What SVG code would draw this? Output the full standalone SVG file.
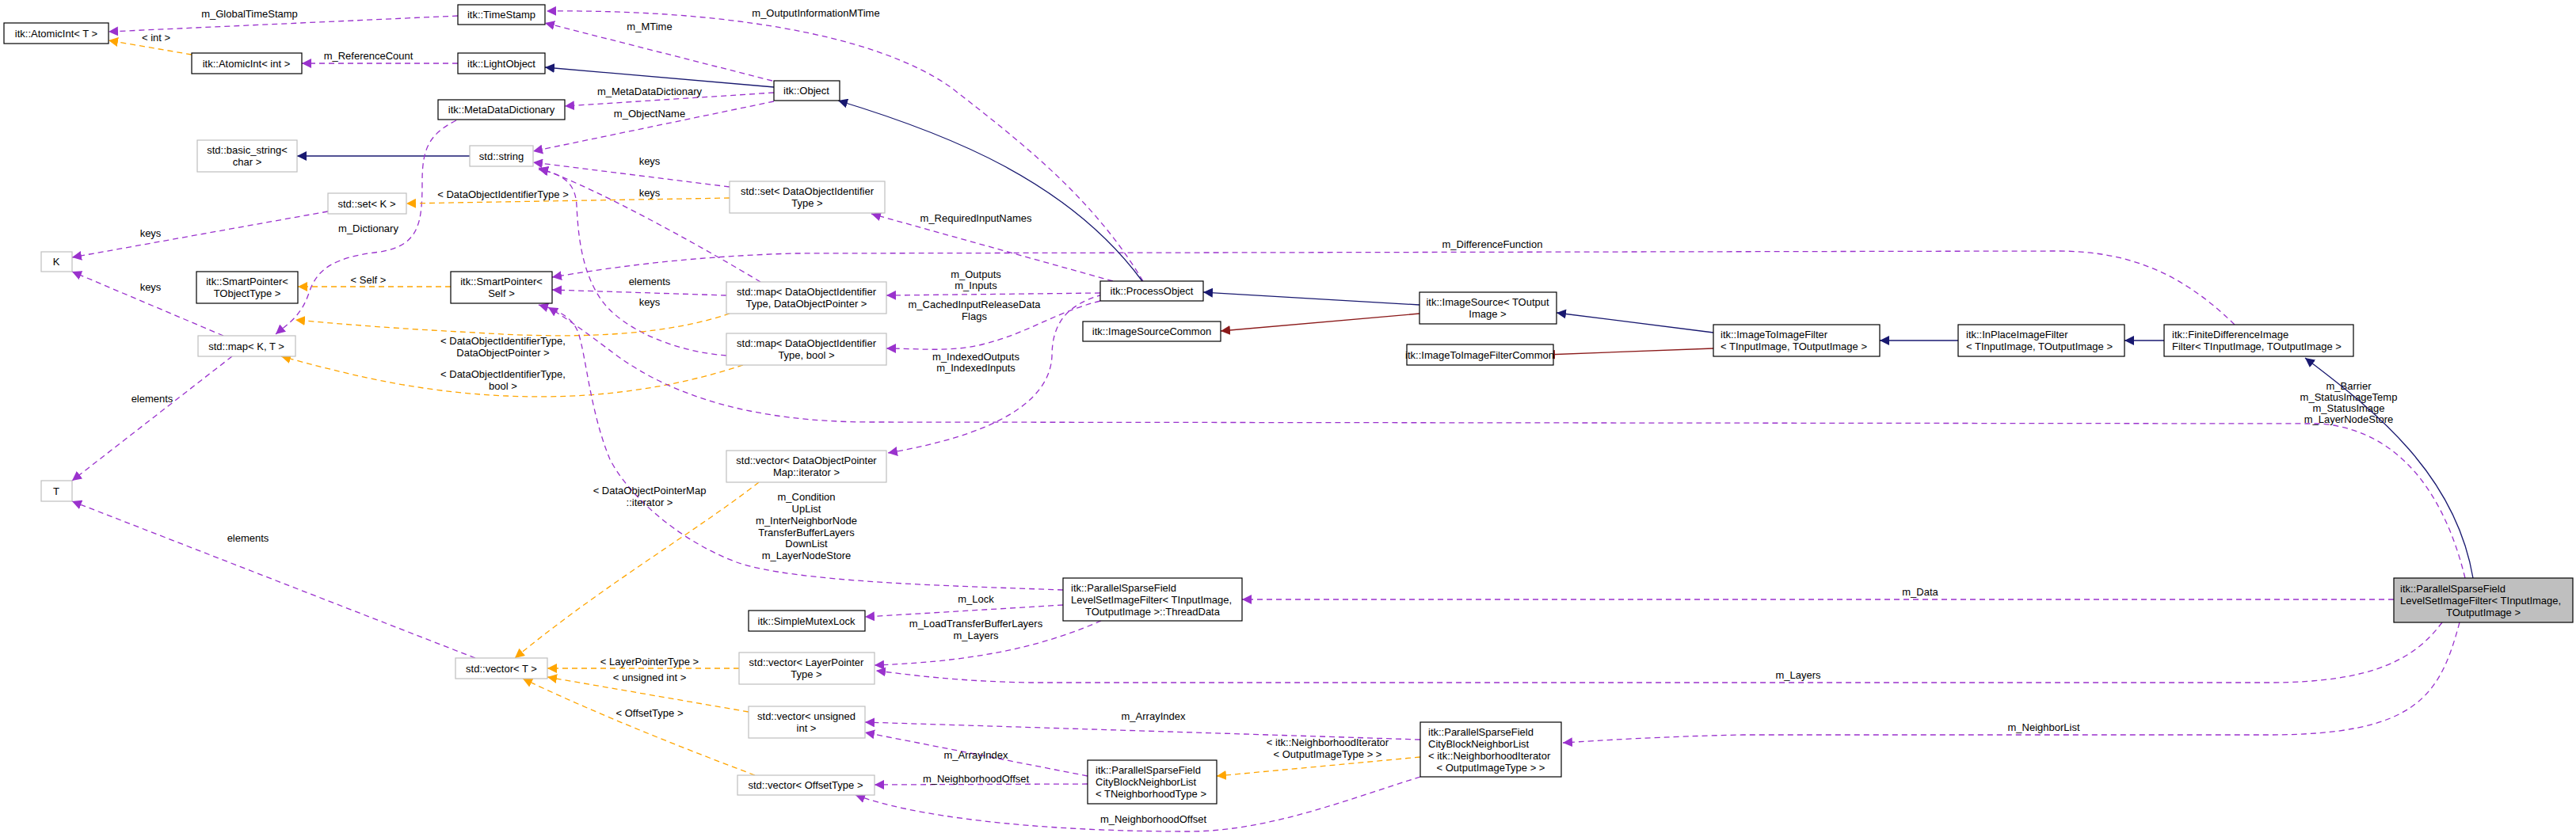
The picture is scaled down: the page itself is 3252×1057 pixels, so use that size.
<svg xmlns="http://www.w3.org/2000/svg" width="3252" height="1057" viewBox="0 0 3252 1057">
<style>
text{font-family:"Liberation Sans",Arial,sans-serif;font-size:13px;fill:#000}
.n rect{fill:#fff;stroke:#000;stroke-width:1.2}
.g rect{fill:#fff;stroke:#bfbfbf;stroke-width:1.2}
.m{text-anchor:middle}
.p{fill:none;stroke:#9a32cd;stroke-width:1.3;stroke-dasharray:7,5;marker-end:url(#ap)}
.o{fill:none;stroke:#ffa500;stroke-width:1.3;stroke-dasharray:7,5;marker-end:url(#ao)}
.b{fill:none;stroke:#191970;stroke-width:1.3;marker-end:url(#ab)}
.r{fill:none;stroke:#8b1a1a;stroke-width:1.3;marker-end:url(#ar)}
</style>
<defs>
<marker id="ap" viewBox="0 0 10 10" refX="10" refY="5" markerWidth="12" markerHeight="12" markerUnits="userSpaceOnUse" orient="auto"><path d="M0,0L10,5L0,10z" fill="#9a32cd"/></marker>
<marker id="ao" viewBox="0 0 10 10" refX="10" refY="5" markerWidth="12" markerHeight="12" markerUnits="userSpaceOnUse" orient="auto"><path d="M0,0L10,5L0,10z" fill="#ffa500"/></marker>
<marker id="ab" viewBox="0 0 10 10" refX="10" refY="5" markerWidth="12" markerHeight="12" markerUnits="userSpaceOnUse" orient="auto"><path d="M0,0L10,5L0,10z" fill="#191970"/></marker>
<marker id="ar" viewBox="0 0 10 10" refX="10" refY="5" markerWidth="12" markerHeight="12" markerUnits="userSpaceOnUse" orient="auto"><path d="M0,0L10,5L0,10z" fill="#8b1a1a"/></marker>
</defs>
<rect width="3252" height="1057" fill="#fff"/>
<g id="edges">
<path class="p" d="M578,20 L137,40"/><text class="m" x="315" y="22">m_GlobalTimeStamp</text>
<path class="o" d="M242,69 L137,51"/><text class="m" x="197" y="52">&lt; int &gt;</text>
<path class="p" d="M578,80 L381,80"/><text class="m" x="465" y="75">m_ReferenceCount</text>
<path class="b" d="M977,110 L688,85"/>
<path class="p" d="M975,102 L688,29"/><text class="m" x="820" y="38">m_MTime</text>
<path class="p" d="M1443,355 C1380,250 1290,180 1200,110 C1100,40 900,12 690,14"/><text class="m" x="1030" y="21">m_OutputInformationMTime</text>
<path class="p" d="M977,117 L713,134"/><text class="m" x="820" y="120">m_MetaDataDictionary</text>
<path class="p" d="M977,128 L673,191"/><text class="m" x="820" y="148">m_ObjectName</text>
<path class="b" d="M593,197 L375,197"/>
<path class="p" d="M576,152 C540,170 533,190 533,230 C533,280 530,310 480,318 C420,325 400,340 390,370 C380,400 362,410 348,422"/><text class="m" x="465" y="293">m_Dictionary</text>
<path class="p" d="M414,267 L91,325"/><text class="m" x="190" y="299">keys</text>
<path class="p" d="M282,424 L91,343"/><text class="m" x="190" y="367">keys</text>
<path class="p" d="M293,450 L91,607"/><text class="m" x="192" y="508">elements</text>
<path class="p" d="M600,831 L91,633"/><text class="m" x="313" y="684">elements</text>
<path class="o" d="M569,362 L376,362"/><text class="m" x="465" y="358">&lt; Self &gt;</text>
<path class="o" d="M921,250 L513,257"/><text class="m" x="635" y="250">&lt; DataObjectIdentifierType &gt;</text>
<path class="p" d="M921,236 L673,205"/><text class="m" x="820" y="208">keys</text>
<path class="p" d="M960,356 C900,320 760,240 680,212"/><text class="m" x="820" y="248">keys</text>
<path class="p" d="M917,449 C860,445 790,420 760,380 C735,345 730,300 728,260 C727,235 715,220 680,214"/><text class="m" x="820" y="386">keys</text>
<path class="p" d="M917,373 L697,366"/><text class="m" x="820" y="360">elements</text>
<path class="o" d="M921,396 C850,420 750,430 600,420 C500,415 440,410 373,404"/><text class="m" x="635" y="435">&lt; DataObjectIdentifierType,</text><text class="m" x="635" y="450">DataObjectPointer &gt;</text>
<path class="o" d="M938,461 C850,490 750,505 640,500 C520,495 430,470 355,450"/><text class="m" x="635" y="477">&lt; DataObjectIdentifierType,</text><text class="m" x="635" y="492">bool &gt;</text>
<path class="p" d="M1389,370 L1119,373"/><text class="m" x="1232" y="351">m_Outputs</text><text class="m" x="1232" y="365">m_Inputs</text>
<path class="p" d="M1389,380 C1330,395 1300,420 1240,435 C1200,445 1160,440 1119,440"/><text class="m" x="1230" y="389">m_CachedInputReleaseData</text><text class="m" x="1230" y="404">Flags</text>
<path class="p" d="M1392,372 C1345,385 1328,410 1328,450 C1325,510 1250,550 1121,572"/><text class="m" x="1232" y="455">m_IndexedOutputs</text><text class="m" x="1232" y="469">m_IndexedInputs</text>
<path class="p" d="M1405,355 L1100,270"/><text class="m" x="1232" y="280">m_RequiredInputNames</text>
<path class="p" d="M2821,410 C2750,340 2680,317 2597,317 L1000,320 C850,325 760,340 697,350"/><text class="m" x="1884" y="313">m_DifferenceFunction</text>
<path class="p" d="M3112,730 C3090,640 3040,545 2930,535 L1100,533 C950,533 850,500 780,450 C740,420 720,405 692,388"/><text class="m" x="2965" y="492">m_Barrier</text><text class="m" x="2965" y="506">m_StatusImageTemp</text><text class="m" x="2965" y="520">m_StatusImage</text><text class="m" x="2965" y="534">m_LayerNodeStore</text>
<path class="p" d="M3022,757 L1568,757"/><text class="m" x="2424" y="752">m_Data</text>
<path class="p" d="M3083,786 C3050,830 3000,862 2864,862 L1300,862 C1200,860 1150,852 1106,847"/><text class="m" x="2270" y="857">m_Layers</text>
<path class="p" d="M3105,786 C3080,880 3050,928 2864,928 L2200,928 C2100,930 2020,935 1973,938"/><text class="m" x="2580" y="923">m_NeighborList</text>
<path class="p" d="M1342,745 C1200,740 1000,735 930,710 C850,680 790,620 770,580 C745,520 740,450 730,420 C722,400 705,392 680,385"/><text class="m" x="1018" y="632">m_Condition</text><text class="m" x="1018" y="647">UpList</text><text class="m" x="1018" y="662">m_InterNeighborNode</text><text class="m" x="1018" y="677">TransferBufferLayers</text><text class="m" x="1018" y="691">DownList</text><text class="m" x="1018" y="706">m_LayerNodeStore</text>
<path class="p" d="M1342,764 L1092,779"/><text class="m" x="1232" y="761">m_Lock</text>
<path class="p" d="M1390,784 C1330,810 1250,835 1104,840"/><text class="m" x="1232" y="792">m_LoadTransferBufferLayers</text><text class="m" x="1232" y="807">m_Layers</text>
<path class="o" d="M958,609 C880,670 760,740 650,831"/><text class="m" x="820" y="624">&lt; DataObjectPointerMap</text><text class="m" x="820" y="639">::iterator &gt;</text>
<path class="o" d="M933,844 L691,844"/><text class="m" x="820" y="840">&lt; LayerPointerType &gt;</text>
<path class="o" d="M945,899 L691,855"/><text class="m" x="820" y="860">&lt; unsigned int &gt;</text>
<path class="o" d="M953,979 C850,940 750,900 660,857"/><text class="m" x="820" y="905">&lt; OffsetType &gt;</text>
<path class="p" d="M1793,934 L1092,912"/><text class="m" x="1456" y="909">m_ArrayIndex</text>
<path class="p" d="M1373,980 L1092,925"/><text class="m" x="1232" y="958">m_ArrayIndex</text>
<path class="p" d="M1373,990 L1104,991"/><text class="m" x="1232" y="988">m_NeighborhoodOffset</text>
<path class="o" d="M1793,956 L1536,980"/><text class="m" x="1676" y="942">&lt; itk::NeighborhoodIterator</text><text class="m" x="1676" y="957">&lt; OutputImageType &gt; &gt;</text>
<path class="p" d="M1793,981 C1700,1010 1600,1050 1500,1050 C1300,1050 1150,1030 1080,1004"/><text class="m" x="1456" y="1039">m_NeighborhoodOffset</text>
<path class="b" d="M1442,355 C1350,230 1200,170 1058,127"/>
<path class="b" d="M1792,385 L1519,369"/>
<path class="r" d="M1792,396 L1541,418"/>
<path class="b" d="M2163,420 L1965,395"/>
<path class="r" d="M2163,440 L1951,448"/>
<path class="b" d="M2472,430 L2373,430"/>
<path class="b" d="M2732,430 L2682,430"/>
<path class="b" d="M3122,730 C3100,600 3000,520 2910,452"/>
</g>
<g id="AtomicIntT" class="n"><rect x="5" y="29" width="132" height="26"/><text class="m" x="71" y="47">itk::AtomicInt&lt; T &gt;</text></g>
<g id="AtomicIntInt" class="n"><rect x="242" y="67" width="139" height="26"/><text class="m" x="311" y="85">itk::AtomicInt&lt; int &gt;</text></g>
<g id="TimeStamp" class="n"><rect x="578" y="6" width="110" height="25"/><text class="m" x="633" y="23">itk::TimeStamp</text></g>
<g id="LightObject" class="n"><rect x="578" y="67" width="110" height="26"/><text class="m" x="633" y="85">itk::LightObject</text></g>
<g id="MetaDataDictionary" class="n"><rect x="553" y="126" width="160" height="25"/><text class="m" x="633" y="143">itk::MetaDataDictionary</text></g>
<g id="basic_string" class="g"><rect x="249" y="177" width="126" height="40"/><text class="m" x="312" y="194">std::basic_string&lt;</text><text class="m" x="312" y="209">char &gt;</text></g>
<g id="string" class="g"><rect x="593" y="184" width="80" height="26"/><text class="m" x="633" y="202">std::string</text></g>
<g id="Object" class="n"><rect x="977" y="102" width="83" height="25"/><text class="m" x="1018" y="119">itk::Object</text></g>
<g id="setK" class="g"><rect x="414" y="244" width="99" height="26"/><text class="m" x="463" y="262">std::set&lt; K &gt;</text></g>
<g id="setDOIT" class="g"><rect x="921" y="229" width="196" height="40"/><text class="m" x="1019" y="246">std::set&lt; DataObjectIdentifier</text><text class="m" x="1019" y="261">Type &gt;</text></g>
<g id="K" class="g"><rect x="52" y="318" width="39" height="25"/><text class="m" x="71" y="335">K</text></g>
<g id="SPTObj" class="n"><rect x="248" y="343" width="128" height="40"/><text class="m" x="312" y="360">itk::SmartPointer&lt;</text><text class="m" x="312" y="375">TObjectType &gt;</text></g>
<g id="SPSelf" class="n"><rect x="569" y="343" width="128" height="40"/><text class="m" x="633" y="360">itk::SmartPointer&lt;</text><text class="m" x="633" y="375">Self &gt;</text></g>
<g id="mapKT" class="g"><rect x="250" y="424" width="123" height="26"/><text class="m" x="311" y="442">std::map&lt; K, T &gt;</text></g>
<g id="mapDOP" class="g"><rect x="917" y="356" width="202" height="40"/><text class="m" x="1018" y="373">std::map&lt; DataObjectIdentifier</text><text class="m" x="1018" y="388">Type, DataObjectPointer &gt;</text></g>
<g id="mapBool" class="g"><rect x="917" y="421" width="202" height="40"/><text class="m" x="1018" y="438">std::map&lt; DataObjectIdentifier</text><text class="m" x="1018" y="453">Type, bool &gt;</text></g>
<g id="vecDOPM" class="g"><rect x="917" y="569" width="202" height="40"/><text class="m" x="1018" y="586">std::vector&lt; DataObjectPointer</text><text class="m" x="1018" y="601">Map::iterator &gt;</text></g>
<g id="T" class="g"><rect x="52" y="607" width="39" height="26"/><text class="m" x="71" y="625">T</text></g>
<g id="vecT" class="g"><rect x="575" y="831" width="116" height="26"/><text class="m" x="633" y="849">std::vector&lt; T &gt;</text></g>
<g id="SimpleMutexLock" class="n"><rect x="945" y="771" width="147" height="26"/><text class="m" x="1018" y="789">itk::SimpleMutexLock</text></g>
<g id="vecLPT" class="g"><rect x="933" y="824" width="171" height="40"/><text class="m" x="1018" y="841">std::vector&lt; LayerPointer</text><text class="m" x="1018" y="856">Type &gt;</text></g>
<g id="vecUInt" class="g"><rect x="945" y="892" width="147" height="40"/><text class="m" x="1018" y="909">std::vector&lt; unsigned</text><text class="m" x="1018" y="924">int &gt;</text></g>
<g id="vecOff" class="g"><rect x="931" y="979" width="173" height="25"/><text class="m" x="1017" y="996">std::vector&lt; OffsetType &gt;</text></g>
<g id="ProcessObject" class="n"><rect x="1389" y="355" width="130" height="25"/><text class="m" x="1454" y="372">itk::ProcessObject</text></g>
<g id="ImageSourceCommon" class="n"><rect x="1367" y="406" width="174" height="25"/><text class="m" x="1454" y="423">itk::ImageSourceCommon</text></g>
<g id="ImageSource" class="n"><rect x="1792" y="369" width="173" height="40"/><text class="m" x="1878" y="386">itk::ImageSource&lt; TOutput</text><text class="m" x="1878" y="401">Image &gt;</text></g>
<g id="ImageToImageFilterCommon" class="n"><rect x="1776" y="435" width="185" height="26"/><text class="m" x="1868" y="453">itk::ImageToImageFilterCommon</text></g>
<g id="ImageToImageFilter" class="n"><rect x="2163" y="410" width="210" height="40"/><text x="2172" y="427">itk::ImageToImageFilter</text><text x="2172" y="442">&lt; TInputImage, TOutputImage &gt;</text></g>
<g id="InPlaceImageFilter" class="n"><rect x="2472" y="410" width="210" height="40"/><text x="2482" y="427">itk::InPlaceImageFilter</text><text x="2482" y="442">&lt; TInputImage, TOutputImage &gt;</text></g>
<g id="FiniteDifferenceImageFilter" class="n"><rect x="2732" y="410" width="239" height="40"/><text x="2742" y="427">itk::FiniteDifferenceImage</text><text x="2742" y="442">Filter&lt; TInputImage, TOutputImage &gt;</text></g>
<g id="main" class="n"><rect x="3022" y="730" width="226" height="56" style="fill:#bfbfbf"/><text x="3030" y="748">itk::ParallelSparseField</text><text x="3030" y="763">LevelSetImageFilter&lt; TInputImage,</text><text class="m" x="3135" y="778">TOutputImage &gt;</text></g>
<g id="ThreadData" class="n"><rect x="1342" y="730" width="226" height="54"/><text x="1352" y="747">itk::ParallelSparseField</text><text x="1352" y="762">LevelSetImageFilter&lt; TInputImage,</text><text class="m" x="1455" y="777">TOutputImage &gt;::ThreadData</text></g>
<g id="CityBlockTNT" class="n"><rect x="1373" y="960" width="163" height="55"/><text x="1383" y="977">itk::ParallelSparseField</text><text x="1383" y="992">CityBlockNeighborList</text><text x="1383" y="1007">&lt; TNeighborhoodType &gt;</text></g>
<g id="CityBlockNI" class="n"><rect x="1793" y="912" width="178" height="69"/><text x="1803" y="929">itk::ParallelSparseField</text><text x="1803" y="944">CityBlockNeighborList</text><text x="1803" y="959">&lt; itk::NeighborhoodIterator</text><text class="m" x="1882" y="974">&lt; OutputImageType &gt; &gt;</text></g>
</svg>
